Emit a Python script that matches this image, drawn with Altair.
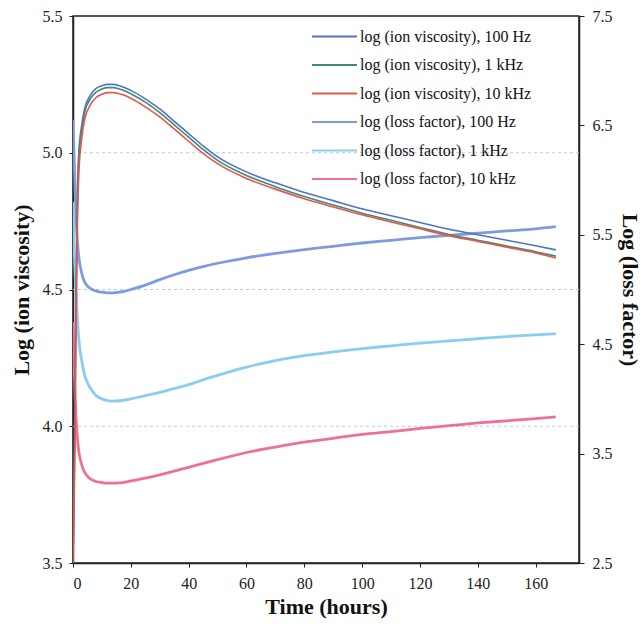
import altair as alt
import pandas as pd

time_h = [0, 0.5, 1, 1.5, 2, 3, 4, 6, 8, 10, 12, 14, 16, 18, 20, 25, 30, 35, 40, 45,
          50, 60, 70, 80, 90, 100, 110, 120, 130, 140, 150, 160, 167]

visc_100hz = [3.5, 3.9, 4.45, 4.85, 5.0, 5.1, 5.16, 5.21, 5.235, 5.245, 5.25, 5.25, 5.245,
              5.238, 5.228, 5.197, 5.16, 5.115, 5.07, 5.025, 4.985, 4.93, 4.89, 4.855,
              4.825, 4.795, 4.77, 4.745, 4.72, 4.70, 4.68, 4.66, 4.645]
visc_1khz = [3.5, 3.85, 4.4, 4.8, 4.97, 5.08, 5.145, 5.197, 5.222, 5.233, 5.238, 5.238, 5.233,
             5.226, 5.216, 5.185, 5.147, 5.102, 5.057, 5.012, 4.972, 4.917, 4.876, 4.84,
             4.809, 4.779, 4.753, 4.727, 4.701, 4.68, 4.659, 4.638, 4.622]
visc_10khz = [3.5, 3.8, 4.3, 4.72, 4.92, 5.05, 5.12, 5.175, 5.202, 5.214, 5.22, 5.22, 5.216,
              5.209, 5.199, 5.168, 5.131, 5.087, 5.042, 4.998, 4.96, 4.906, 4.867, 4.832,
              4.802, 4.773, 4.747, 4.722, 4.697, 4.676, 4.655, 4.634, 4.615]

loss_100hz = [6.55, 6.1, 5.7, 5.45, 5.3, 5.15, 5.07, 5.01, 4.985, 4.975, 4.97, 4.97, 4.975,
              4.985, 5.0, 5.04, 5.09, 5.135, 5.175, 5.21, 5.24, 5.29, 5.33, 5.365, 5.395,
              5.425, 5.45, 5.475, 5.495, 5.515, 5.535, 5.555, 5.575]
loss_1khz = [5.8, 5.3, 5.0, 4.75, 4.55, 4.35, 4.22, 4.1, 4.03, 4.0, 3.985, 3.98, 3.983,
             3.99, 4.0, 4.03, 4.06, 4.095, 4.13, 4.175, 4.215, 4.29, 4.35, 4.395, 4.43,
             4.46, 4.485, 4.51, 4.53, 4.55, 4.57, 4.585, 4.595]
loss_10khz = [4.7, 4.2, 3.85, 3.65, 3.52, 3.4, 3.33, 3.27, 3.245, 3.235, 3.23, 3.23, 3.232,
              3.24, 3.25, 3.275, 3.305, 3.34, 3.375, 3.41, 3.445, 3.51, 3.56, 3.605, 3.64,
              3.675, 3.70, 3.73, 3.755, 3.78, 3.80, 3.82, 3.835]

series_names = [
    "log (ion viscosity), 100 Hz",
    "log (ion viscosity), 1 kHz",
    "log (ion viscosity), 10 kHz",
    "log (loss factor), 100 Hz",
    "log (loss factor), 1 kHz",
    "log (loss factor), 10 kHz",
]
series_colors = ["#5272c8", "#3f8c74", "#e8544c", "#7f9be0", "#8acdf0", "#ee6f9b"]

left_ticks = [3.5, 4.0, 4.5, 5.0, 5.5]
grid_levels = [4.0, 4.5, 5.0]
right_ticks = [2.5, 3.5, 4.5, 5.5, 6.5, 7.5]
x_ticks = [0, 20, 40, 60, 80, 100, 120, 140, 160]

visc_rows = []
for name, vals in zip(series_names[:3], [visc_100hz, visc_1khz, visc_10khz]):
    for t, v in zip(time_h, vals):
        visc_rows.append({"t": t, "v": v, "series": name})
loss_rows = []
for name, vals in zip(series_names[3:], [loss_100hz, loss_1khz, loss_10khz]):
    for t, v in zip(time_h, vals):
        loss_rows.append({"t": t, "v": v, "series": name})

visc_df = pd.DataFrame(visc_rows)
loss_df = pd.DataFrame(loss_rows)
grid_df = pd.DataFrame({"g": grid_levels})

FONT = "Liberation Serif"

color = alt.Color(
    "series:N",
    scale=alt.Scale(domain=series_names, range=series_colors),
    legend=alt.Legend(
        title=None,
        orient="none",
        legendX=249,
        legendY=8,
        symbolType="M-2,0H2",
        symbolSize=506,
        symbolStrokeWidth=2,
        rowPadding=7.5,
        labelFont=FONT,
        labelFontSize=16,
        labelColor="#111111",
        labelOffset=13,
        padding=0,
        labelLimit=300,
    ),
    sort=series_names,
)

x_enc = alt.X(
    "t:Q",
    scale=alt.Scale(domain=[0, 175], nice=False, zero=False),
    axis=alt.Axis(
        title="Time (hours)",
        values=x_ticks,
        grid=False,
        tickSize=4,
        labelPadding=8,
        titlePadding=5,
    ),
)

grid = alt.Chart(grid_df).mark_rule(color="#b4cbec", strokeDash=[3, 3], strokeWidth=1).encode(
    y=alt.Y("g:Q", scale=alt.Scale(domain=[3.5, 5.5], nice=False, zero=False), axis=None),
)

visc = alt.Chart(visc_df).mark_line(strokeWidth=1.6, clip=True, interpolate="monotone").encode(
    x=x_enc,
    y=alt.Y(
        "v:Q",
        scale=alt.Scale(domain=[3.5, 5.5], nice=False, zero=False),
        axis=alt.Axis(
            title="Log (ion viscosity)",
            orient="left",
            values=left_ticks,
            format=".1f",
            grid=False,
            tickSize=4,
            labelPadding=7,
            titlePadding=9,
        ),
    ),
    color=color,
    detail="series:N",
)

loss = alt.Chart(loss_df).mark_line(strokeWidth=2.8, clip=True, interpolate="monotone").encode(
    x=x_enc,
    y=alt.Y(
        "v:Q",
        scale=alt.Scale(domain=[2.5, 7.5], nice=False, zero=False),
        axis=alt.Axis(
            title="Log (loss factor)",
            orient="right",
            values=right_ticks,
            format=".1f",
            grid=False,
            tickSize=5,
            labelPadding=8,
            titlePadding=5,
        ),
    ),
    color=color,
    detail="series:N",
)

chart = (
    alt.layer(grid, loss, visc)
    .resolve_scale(y="independent", color="shared")
    .properties(
        width=506,
        height=547,
        background="white",
        autosize=alt.AutoSizeParams(type="none"),
        padding={"left": 73, "top": 16, "right": 65, "bottom": 67},
    )
    .configure_view(stroke="#222222", strokeWidth=1.5)
    .configure_axis(
        labelFont=FONT,
        labelFontSize=16,
        labelColor="#222222",
        titleFont=FONT,
        titleFontSize=22,
        titleFontWeight="bold",
        titleColor="#111111",
        domainColor="#222222",
        domainWidth=1.5,
        tickColor="#222222",
    )
)

chart.save("out.html", embed_options={"renderer": "svg", "actions": False})
